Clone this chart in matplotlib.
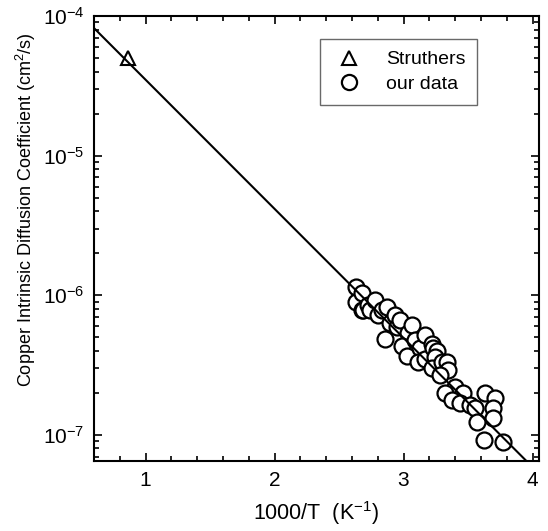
"""Copper intrinsic diffusion coefficient vs inverse temperature."""

import matplotlib

matplotlib.use("Agg")
import matplotlib.pyplot as plt
from matplotlib.ticker import LogLocator, MultipleLocator, NullFormatter

plt.rcParams["font.family"] = ["Liberation Sans", "DejaVu Sans"]
plt.rcParams["mathtext.fontset"] = "custom"
plt.rcParams["mathtext.rm"] = "Liberation Sans"

# Struthers point
struthers_x = [0.86]
struthers_y = [5.0e-5]

# our data (1000/T in 1/K, D in cm^2/s)
data_x = [
    2.632, 2.632, 2.678, 2.678, 2.686, 2.725, 2.740, 2.779, 2.803, 2.834,
    2.873, 2.857, 2.896, 2.935, 2.950, 2.974, 3.036, 2.989, 3.067, 3.028,
    3.090, 3.129, 3.113, 3.168, 3.168, 3.222, 3.230, 3.261, 3.246, 3.222,
    3.300, 3.339, 3.347, 3.284, 3.401, 3.463, 3.323, 3.378, 3.440, 3.517,
    3.556, 3.572, 3.634, 3.712, 3.696, 3.696, 3.626, 3.774,
]
data_y = [
    1.15e-6, 8.9e-7, 1.03e-6, 7.8e-7, 7.8e-7, 8.5e-7, 7.8e-7, 9.2e-7, 7.2e-7, 7.8e-7,
    8.2e-7, 4.9e-7, 6.3e-7, 7.2e-7, 5.9e-7, 6.6e-7, 5.4e-7, 4.3e-7, 6.1e-7, 3.7e-7,
    4.8e-7, 4.2e-7, 3.3e-7, 5.2e-7, 3.5e-7, 4.5e-7, 4.2e-7, 4.0e-7, 3.6e-7, 3.0e-7,
    3.3e-7, 3.3e-7, 2.9e-7, 2.7e-7, 2.2e-7, 2.0e-7, 2.0e-7, 1.78e-7, 1.69e-7, 1.64e-7,
    1.56e-7, 1.24e-7, 2.0e-7, 1.84e-7, 1.56e-7, 1.32e-7, 9.2e-8, 8.9e-8,
]

# fit line endpoints
fit_x = [0.6, 3.953]
fit_y = [8.2e-5, 6.5e-8]

fig = plt.figure(figsize=(5.48, 5.31), dpi=100)
ax = fig.add_axes([0.1715, 0.1318, 0.812, 0.838])

ax.plot(data_x, data_y, "o", ms=11.5, mfc="white", mec="black", mew=1.6,
        ls="none", label="our data", zorder=2)
ax.plot(struthers_x, struthers_y, "^", ms=10, mfc="none", mec="black", mew=1.5,
        ls="none", label="Struthers", zorder=2)
ax.plot(fit_x, fit_y, color="black", lw=1.5, zorder=3)

ax.set_yscale("log")
ax.set_xlim(0.6, 4.05)
ax.set_ylim(6.5e-8, 1e-4)

ax.xaxis.set_major_locator(MultipleLocator(1))
ax.xaxis.set_minor_locator(MultipleLocator(0.2))
ax.yaxis.set_major_locator(LogLocator(base=10))
ax.yaxis.set_minor_locator(LogLocator(base=10, subs=range(2, 10)))
ax.yaxis.set_minor_formatter(NullFormatter())

ax.tick_params(which="both", direction="in", top=True, right=True, width=1.2)
ax.tick_params(which="major", length=6, labelsize=15, pad=7)
ax.tick_params(which="minor", length=3.5)
for spine in ax.spines.values():
    spine.set_linewidth(1.5)

ax.set_xlabel("1000/T  (K$^{-1}$)", fontsize=15.5, labelpad=7)
ax.set_ylabel("Copper Intrinsic Diffusion Coefficient (cm$^{2}$/s)", fontsize=13)
ax.yaxis.set_label_coords(-0.125, 0.565)

handles, labels = ax.get_legend_handles_labels()
leg = ax.legend(handles[::-1], labels[::-1], loc="upper left",
                bbox_to_anchor=(0.508, 0.948), borderaxespad=0, fontsize=14,
                frameon=True, fancybox=False, edgecolor="#444444",
                handletextpad=1.0, borderpad=0.6, labelspacing=0.35,
                markerscale=0.95, handlelength=1.8)
leg.get_frame().set_linewidth(1.0)

fig.savefig("out.png", dpi=100)
